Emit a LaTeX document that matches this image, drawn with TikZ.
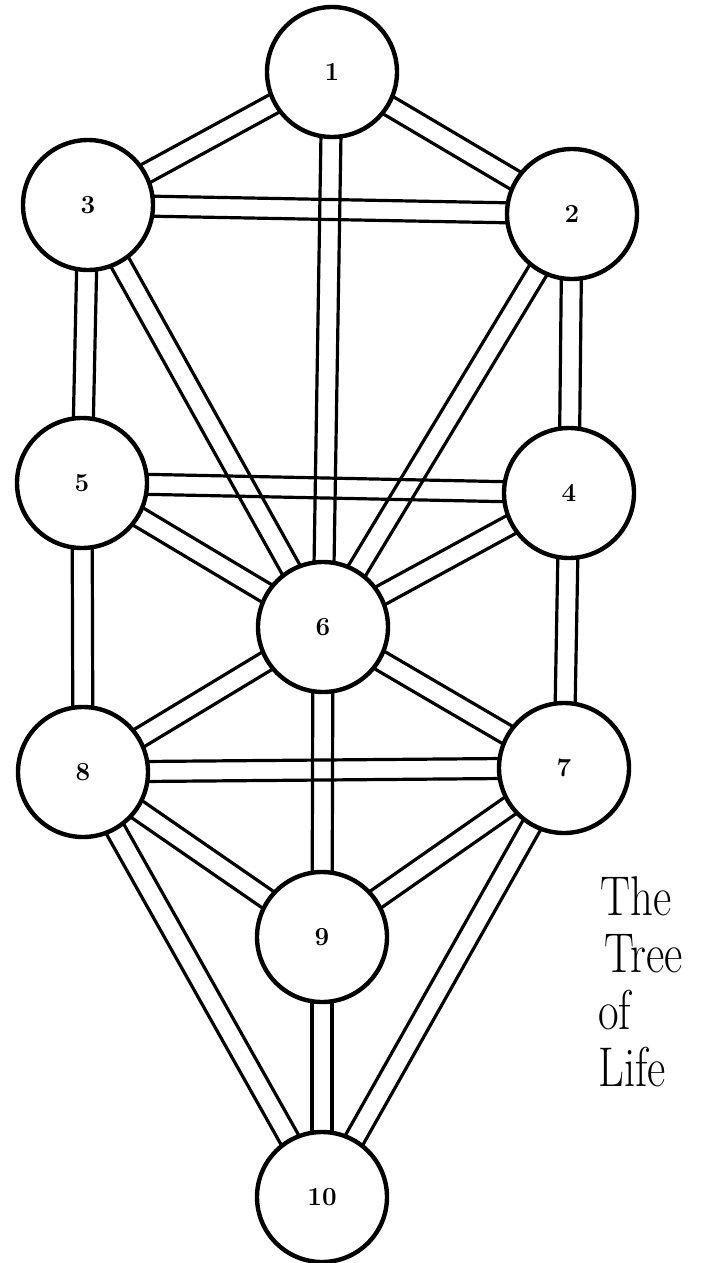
\documentclass[tikz,border=0pt]{standalone}
\usetikzlibrary{calc,backgrounds}
\begin{document}
\begin{tikzpicture}[x=1pt,y=-1pt,
  sephira/.style={circle,draw=black,line width=4.4pt,fill=white,minimum size=130pt,inner sep=0pt,font=\fontsize{26}{26}\selectfont\bfseries},
  channel/.style={draw=black,line width=3.2pt},
  title/.style={anchor=base west,inner sep=0pt,font=\fontsize{56}{56}\selectfont}]
\useasboundingbox (0,0) rectangle (701,1263);
\node[sephira] (n1) at (332,72) {1};
\node[sephira] (n3) at (88,205) {3};
\node[sephira] (n2) at (572,214) {2};
\node[sephira] (n5) at (82,483) {5};
\node[sephira] (n4) at (569,493) {4};
\node[sephira] (n6) at (323,627) {6};
\node[sephira] (n8) at (83,772) {8};
\node[sephira] (n7) at (564,768) {7};
\node[sephira] (n9) at (322,937) {9};
\node[sephira] (n10) at (322,1197) {10};
\begin{pgfonlayer}{background}
\foreach \a/\b in {n1/n2,n1/n3,n1/n6,n3/n2,n3/n5,n3/n6,n2/n4,n2/n6,n5/n4,n5/n6,n4/n6,n5/n8,n4/n7,n6/n8,n6/n7,n6/n9,n8/n7,n8/n9,n7/n9,n8/n10,n9/n10,n7/n10}{
  \draw[channel] ($(\a.center)!10pt!90:(\b.center)$) -- ($(\b.center)!10pt!-90:(\a.center)$);
  \draw[channel] ($(\a.center)!10pt!-90:(\b.center)$) -- ($(\b.center)!10pt!90:(\a.center)$);
}
\end{pgfonlayer}
\node[title] (t1) at (600,915) {\scalebox{0.8}[1]{The}};
\node[title] (t2) at (604,972) {\scalebox{0.8}[1]{Tree}};
\node[title] (t3) at (598,1029) {\scalebox{0.8}[1]{of}};
\node[title] (t4) at (598,1086) {\scalebox{0.8}[1]{Life}};
\end{tikzpicture}
\end{document}
